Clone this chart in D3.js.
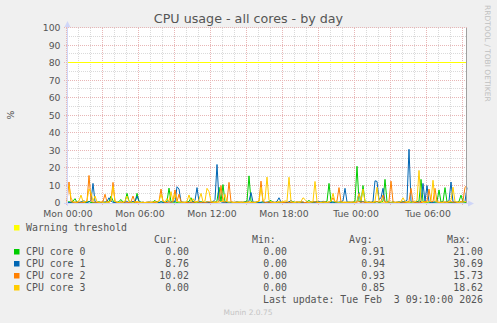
<!DOCTYPE html>
<html><head><meta charset="utf-8">
<script src="https://cdn.jsdelivr.net/npm/d3@7"></script>
<style>
html,body{margin:0;padding:0;background:#F0F0F0;}
svg{display:block;}
</style></head><body>
<svg id="c" width="497" height="323"></svg>
<script>
// ---------- data ----------
const chartTitle = "CPU usage - all cores - by day";
const yAxisLabel = "%";
const startTime = Date.UTC(2026, 1, 2, 0, 0, 0); // Mon 00:00
const stepSeconds = 600;
const spanSeconds = 120000;
const yMajorTicks = [0, 10, 20, 30, 40, 50, 60, 70, 80, 90, 100];
const xTickLabels = ["Mon 00:00", "Mon 06:00", "Mon 12:00", "Mon 18:00", "Tue 00:00", "Tue 06:00"];
const warningThreshold = 80;
const seriesNames = ["CPU core 0", "CPU core 1", "CPU core 2", "CPU core 3"];
const seriesColors = ["#00CC00", "#0066B3", "#FF8000", "#FFCC00"];
const warningColor = "#FFFF00";

const core0 = [
0.3,0.8,0.2,1.0,2.5,0.4,0.1,0.6,0.3,0.2,
0.5,0.9,0.2,0.4,0.1,0.3,0.7,0.2,0.5,0.3,
0.6,0.8,4.0,1.2,0.3,0.2,0.9,2.0,0.4,0.6,
5.5,1.1,0.3,0.5,0.2,5.5,1.0,0.4,0.2,0.3,
0.1,0.4,0.2,0.6,1.5,0.3,0.2,0.8,0.4,0.3,
0.9,8.5,0.7,0.4,0.6,0.3,0.5,0.2,0.4,0.3,
0.6,0.9,3.0,0.4,0.2,0.5,0.3,0.8,0.2,0.4,
0.6,0.3,0.2,0.7,0.4,1.2,9.0,0.8,10.5,0.6,
0.3,0.5,0.2,0.4,0.1,0.3,0.6,0.2,0.4,0.7,
1.1,15.5,0.9,0.3,0.5,0.2,0.4,0.3,0.6,0.2,
0.4,0.8,1.5,0.3,0.2,0.5,0.4,0.2,0.6,0.3,
0.2,0.5,0.3,0.8,0.4,0.2,0.6,0.3,0.4,0.2,
0.7,1.5,0.4,0.3,0.5,0.9,0.2,0.4,0.3,0.6,
1.0,11.2,0.8,0.4,0.3,0.6,0.2,0.5,0.3,0.4,
0.2,0.6,0.3,0.5,1.2,21.0,0.9,0.4,10.0,0.7,
0.3,0.5,0.2,0.6,0.4,0.8,0.3,0.5,1.0,13.5,
0.7,0.4,0.3,0.6,0.2,0.4,0.5,0.3,0.8,0.2,
0.4,0.6,0.3,0.5,0.2,0.8,1.1,13.5,0.9,0.4,
0.3,0.6,0.2,0.5,0.4,0.7,7.5,0.5,0.8,8.8,
0.6,0.3,0.4,0.2,0.5,0.3,0.9,4.5,0.6,0.4,
0.0];
const core1 = [
0.5,0.2,0.6,0.3,0.4,0.8,0.2,0.5,1.2,1.0,
0.3,0.6,1.4,11.2,0.8,0.3,0.5,0.2,0.4,0.6,
0.9,3.0,1.1,0.4,0.2,0.5,0.3,0.6,0.2,0.4,
0.8,0.3,0.5,1.0,0.6,4.0,0.9,0.3,0.5,0.2,
0.4,0.6,0.3,0.2,0.5,0.8,0.3,0.6,0.4,0.2,
0.5,0.7,0.3,1.1,0.6,9.3,8.0,0.8,0.4,0.3,
0.2,0.5,0.3,0.6,1.4,8.8,0.7,0.3,0.5,0.2,
0.4,0.3,0.6,0.8,2.0,22.0,1.5,0.6,0.4,0.3,
0.5,0.2,0.6,0.3,0.4,0.7,0.2,0.5,0.3,0.6,
0.4,1.2,6.0,0.5,0.3,0.6,0.2,0.4,0.7,0.3,
0.5,0.2,0.4,0.6,0.3,1.0,3.0,0.5,0.2,0.4,
0.3,0.6,1.5,0.4,0.2,0.5,0.3,0.7,0.4,0.2,
0.6,0.3,0.5,0.8,0.4,0.6,0.9,0.5,1.0,0.7,
0.3,0.5,0.2,0.6,0.4,0.3,0.5,0.8,1.2,8.4,
0.6,0.3,0.5,0.2,0.4,0.8,6.0,0.5,0.9,0.3,
0.4,0.6,0.3,1.0,12.7,12.3,2.0,3.0,8.4,0.6,
0.3,0.5,0.2,0.6,0.4,0.3,0.7,0.5,0.4,0.9,
1.5,30.69,0.8,0.5,0.3,0.6,0.4,1.0,11.2,0.9,
10.0,0.6,0.4,0.3,0.7,0.5,0.2,0.6,0.4,0.3,
0.8,1.2,12.0,0.6,0.4,0.5,0.3,0.6,0.4,0.9,
8.76];
const core2 = [
0.8,12.0,0.9,0.3,0.5,0.2,0.6,0.4,0.3,0.5,
1.0,15.73,1.2,0.4,0.6,0.3,0.2,0.5,0.8,5.0,
0.6,0.3,1.1,11.8,0.7,0.4,0.2,0.5,0.3,0.6,
0.4,0.2,0.8,4.0,0.5,0.3,0.6,0.2,0.4,0.3,
0.5,0.2,0.6,0.4,0.3,0.5,1.0,8.0,0.9,0.4,
0.3,0.6,0.4,0.8,7.5,0.9,5.0,0.6,0.3,0.5,
0.2,0.4,0.6,0.3,0.5,0.8,0.4,0.2,0.6,0.3,
0.5,0.7,0.3,0.4,0.6,0.3,1.2,10.0,0.8,0.5,
1.0,11.8,0.7,0.4,0.3,0.5,0.2,0.6,0.4,0.3,
0.5,0.6,0.3,0.4,0.2,0.8,1.0,12.5,0.9,0.4,
0.3,0.6,0.2,0.5,0.4,0.3,0.6,0.5,0.2,0.4,
0.6,0.3,0.5,0.2,0.4,0.7,0.3,0.5,0.6,0.2,
0.4,0.3,0.6,0.5,0.8,0.2,0.4,0.3,0.5,0.6,
0.3,0.5,0.9,3.0,0.6,1.2,8.8,0.7,0.4,0.3,
0.5,0.2,0.4,0.6,0.3,0.5,0.8,0.4,0.6,0.3,
0.2,0.5,0.4,0.3,0.6,0.8,0.5,1.0,4.5,0.6,
0.4,1.1,12.5,0.8,0.3,0.5,0.2,0.6,0.4,0.3,
0.5,0.9,8.4,0.7,0.4,0.3,0.6,0.2,0.5,0.8,
1.0,8.0,0.6,0.9,8.4,0.7,0.4,0.3,0.5,0.6,
0.3,0.5,0.8,0.4,0.6,0.3,0.5,0.8,1.2,9.0,
10.02];
const core3 = [
9.0,10.0,3.0,0.8,0.4,0.6,1.2,4.5,0.9,0.5,
1.5,8.0,6.0,1.0,4.0,0.8,0.4,0.6,0.3,0.5,
0.4,0.7,1.2,9.5,1.0,0.5,0.3,0.6,0.4,1.0,
4.0,0.8,0.5,0.3,0.6,0.9,0.4,0.3,0.5,0.2,
0.4,0.6,0.3,0.5,0.8,0.4,1.0,5.0,1.2,0.6,
2.6,0.9,6.5,1.0,5.0,0.8,0.6,0.4,0.5,0.3,
1.0,4.6,0.8,2.5,0.6,0.5,2.0,5.5,0.7,1.2,
8.4,6.5,0.9,0.5,0.3,0.6,0.4,0.8,1.0,5.0,
0.7,0.4,0.6,0.3,0.5,0.4,0.6,0.3,0.5,0.4,
0.3,0.6,0.4,0.5,0.3,0.6,0.9,9.0,1.0,2.0,
14.8,1.5,0.6,0.4,0.3,0.5,0.6,0.4,0.8,1.2,
1.0,14.7,0.9,0.5,0.3,0.6,0.4,0.8,3.0,2.0,
0.6,0.4,0.5,1.0,12.3,0.8,0.4,0.3,0.6,0.5,
0.4,0.6,1.0,5.5,0.7,0.5,0.3,0.6,0.4,0.5,
0.3,0.6,0.4,0.5,0.3,1.0,5.5,1.2,8.0,0.8,
0.5,0.3,0.6,0.4,1.0,9.0,1.2,0.6,0.4,0.5,
0.3,0.6,0.4,0.5,0.3,0.6,0.4,1.0,3.0,0.8,
0.5,0.4,0.6,0.3,0.8,1.5,18.62,1.0,0.6,0.4,
0.5,0.8,1.4,13.0,1.1,0.6,0.4,0.5,0.3,0.6,
0.4,1.0,1.5,9.0,0.9,0.5,0.3,0.6,0.4,1.0,
0.0];
const seriesValues = [core0, core1, core2, core3];

const legendHeaders = ["Cur:", "Min:", "Avg:", "Max:"];
const curValues = ["0.00", "8.76", "10.02", "0.00"];
const minValues = ["0.00", "0.00", "0.00", "0.00"];
const avgValues = ["0.91", "0.94", "0.93", "0.85"];
const maxValues = ["21.00", "30.69", "15.73", "18.62"];
const lastUpdate = "Last update: Tue Feb  3 09:10:00 2026";
const versionText = "Munin 2.0.75";
const watermark = "RRDTOOL / TOBI OETIKER";

// ---------- layout ----------
const W = 497, H = 323;
const L = 67, R = 467, T = 28, B = 203;
const sansFont = "'DejaVu Sans', Verdana, sans-serif";
const monoFont = "'DejaVu Sans Mono', monospace";
const fontColor = "#555555";
const axisColor = "#CFD6F8";
const minorGrid = "#DADADA";
const majorGrid = "#E8B6B6";

const svg = d3.select("#c");
svg.append("rect").attr("width", W).attr("height", H).attr("fill", "#F0F0F0");

const x = d3.scaleUtc()
  .domain([new Date(startTime), new Date(startTime + spanSeconds * 1000)])
  .range([L, R]);
const y = d3.scaleLinear().domain([0, 100]).range([B, T]);

// canvas
svg.append("rect").attr("x", L).attr("y", T).attr("width", R - L).attr("height", B - T).attr("fill", "#FFFFFF");

const crisp = v => Math.round(v) + 0.5;
const grid = svg.append("g").attr("shape-rendering", "crispEdges");

// minor horizontal grid (every 5)
const yMinor = d3.range(5, 100, 10);
grid.selectAll(".hmin").data(yMinor).enter().append("line")
  .attr("x1", L).attr("x2", R)
  .attr("y1", d => crisp(y(d)) - 1).attr("y2", d => crisp(y(d)) - 1)
  .attr("stroke", minorGrid).attr("stroke-dasharray", "1,1");
// minor vertical grid (every hour)
const hourTimes = d3.utcHour.range(new Date(startTime), new Date(startTime + spanSeconds * 1000 + 1));
grid.selectAll(".vmin").data(hourTimes.filter(t => t.getUTCHours() % 3 !== 0)).enter().append("line")
  .attr("y1", T).attr("y2", B)
  .attr("x1", d => crisp(x(d)) - 1).attr("x2", d => crisp(x(d)) - 1)
  .attr("stroke", minorGrid).attr("stroke-dasharray", "1,1");
// major horizontal grid
grid.selectAll(".hmaj").data(yMajorTicks.filter(d => d > 0)).enter().append("line")
  .attr("x1", L - 3).attr("x2", R + 1)
  .attr("y1", d => crisp(y(d)) - 1).attr("y2", d => crisp(y(d)) - 1)
  .attr("stroke", majorGrid).attr("stroke-dasharray", "1,1");
// major vertical grid (every 3 hours)
grid.selectAll(".vmaj").data(hourTimes.filter(t => t.getUTCHours() % 3 === 0)).enter().append("line")
  .attr("y1", T).attr("y2", B + 3)
  .attr("x1", d => crisp(x(d)) - 1).attr("x2", d => crisp(x(d)) - 1)
  .attr("stroke", majorGrid).attr("stroke-dasharray", "1,1");

// warning threshold
svg.append("line").attr("x1", L).attr("x2", R)
  .attr("y1", crisp(y(warningThreshold)) - 1).attr("y2", crisp(y(warningThreshold)) - 1)
  .attr("stroke", warningColor).attr("stroke-width", 1.2);

// series lines
const line = d3.line()
  .x((d, i) => x(new Date(startTime + i * stepSeconds * 1000)))
  .y(d => y(d));
const plot = svg.append("g");
seriesValues.forEach((vals, k) => {
  plot.append("path").datum(vals)
    .attr("d", line).attr("fill", "none")
    .attr("stroke", seriesColors[k]).attr("stroke-width", 1)
    .attr("stroke-linejoin", "miter");
});

// right edge line
svg.append("line").attr("x1", R - 0.5).attr("x2", R - 0.5).attr("y1", T).attr("y2", B)
  .attr("stroke", "#A0A0A0").attr("stroke-width", 1);

// axes
const ax = svg.append("g").attr("shape-rendering", "crispEdges");
ax.append("line").attr("x1", L - 3).attr("x2", R + 5).attr("y1", B + 0.5).attr("y2", B + 0.5).attr("stroke", axisColor);
ax.append("line").attr("x1", L + 0.5).attr("x2", L + 0.5).attr("y1", B + 3).attr("y2", T - 4).attr("stroke", axisColor);
svg.append("path").attr("d", `M${R + 1},${B - 2.5} L${R + 7},${B + 0.5} L${R + 1},${B + 3.5} Z`).attr("fill", axisColor);
svg.append("path").attr("d", `M${L - 2.5},${T - 1} L${L + 0.5},${T - 7} L${L + 3.5},${T - 1} Z`).attr("fill", axisColor);

// y tick labels
svg.append("g").selectAll("text").data(yMajorTicks).enter().append("text")
  .attr("x", L - 6.5).attr("y", d => y(d) + 3.4)
  .attr("text-anchor", "end")
  .attr("font-family", sansFont).attr("font-size", "9.3px").attr("fill", fontColor)
  .text(d => d);

// x tick labels
const xTickTimes = xTickLabels.map((s, i) => new Date(startTime + i * 6 * 3600 * 1000));
svg.append("g").selectAll("text").data(xTickTimes).enter().append("text")
  .attr("x", d => x(d) + 1).attr("y", 216.5)
  .attr("text-anchor", "middle")
  .attr("font-family", sansFont).attr("font-size", "9.3px").attr("fill", fontColor)
  .text((d, i) => xTickLabels[i]);

// title
svg.append("text").attr("x", 248.5).attr("y", 23)
  .attr("text-anchor", "middle")
  .attr("font-family", sansFont).attr("font-size", "12.7px").attr("fill", fontColor)
  .text(chartTitle);

// y axis label
svg.append("text").attr("transform", "translate(14,115) rotate(-90)")
  .attr("text-anchor", "middle")
  .attr("font-family", sansFont).attr("font-size", "9.3px").attr("fill", fontColor)
  .text(yAxisLabel);

// watermark
svg.append("text").attr("transform", "translate(485,5) rotate(90)")
  .attr("font-family", sansFont).attr("font-size", "7.5px").attr("fill", "#C0C0C0")
  .text(watermark);

// legend
const lg = svg.append("g").attr("font-family", monoFont).attr("font-size", "9.9px").attr("fill", fontColor);
const sq = (yb, c) => svg.append("rect").attr("x", 14).attr("y", yb - 6).attr("width", 5.5).attr("height", 5.5).attr("fill", c);
sq(231, warningColor);
lg.append("text").attr("x", 26).attr("y", 231).text("Warning threshold");
const headerX = [154, 252, 349, 447];
const valueRight = [189, 287, 385, 483];
legendHeaders.forEach((h, i) => lg.append("text").attr("x", headerX[i]).attr("y", 243).text(h));
const cols = [curValues, minValues, avgValues, maxValues];
seriesNames.forEach((n, k) => {
  const yb = 255 + k * 12;
  sq(yb, seriesColors[k]);
  lg.append("text").attr("x", 26).attr("y", yb).text(n);
  cols.forEach((col, j) => lg.append("text").attr("x", valueRight[j]).attr("y", yb)
    .attr("text-anchor", "end").text(col[k]));
});
lg.append("text").attr("x", 483).attr("y", 303).attr("text-anchor", "end").attr("xml:space", "preserve")
  .style("white-space", "pre").text(lastUpdate);

svg.append("text").attr("x", 248).attr("y", 314.5).attr("text-anchor", "middle")
  .attr("font-family", sansFont).attr("font-size", "7.5px").attr("fill", "#C4C4C4")
  .text(versionText);
</script>
</body></html>
